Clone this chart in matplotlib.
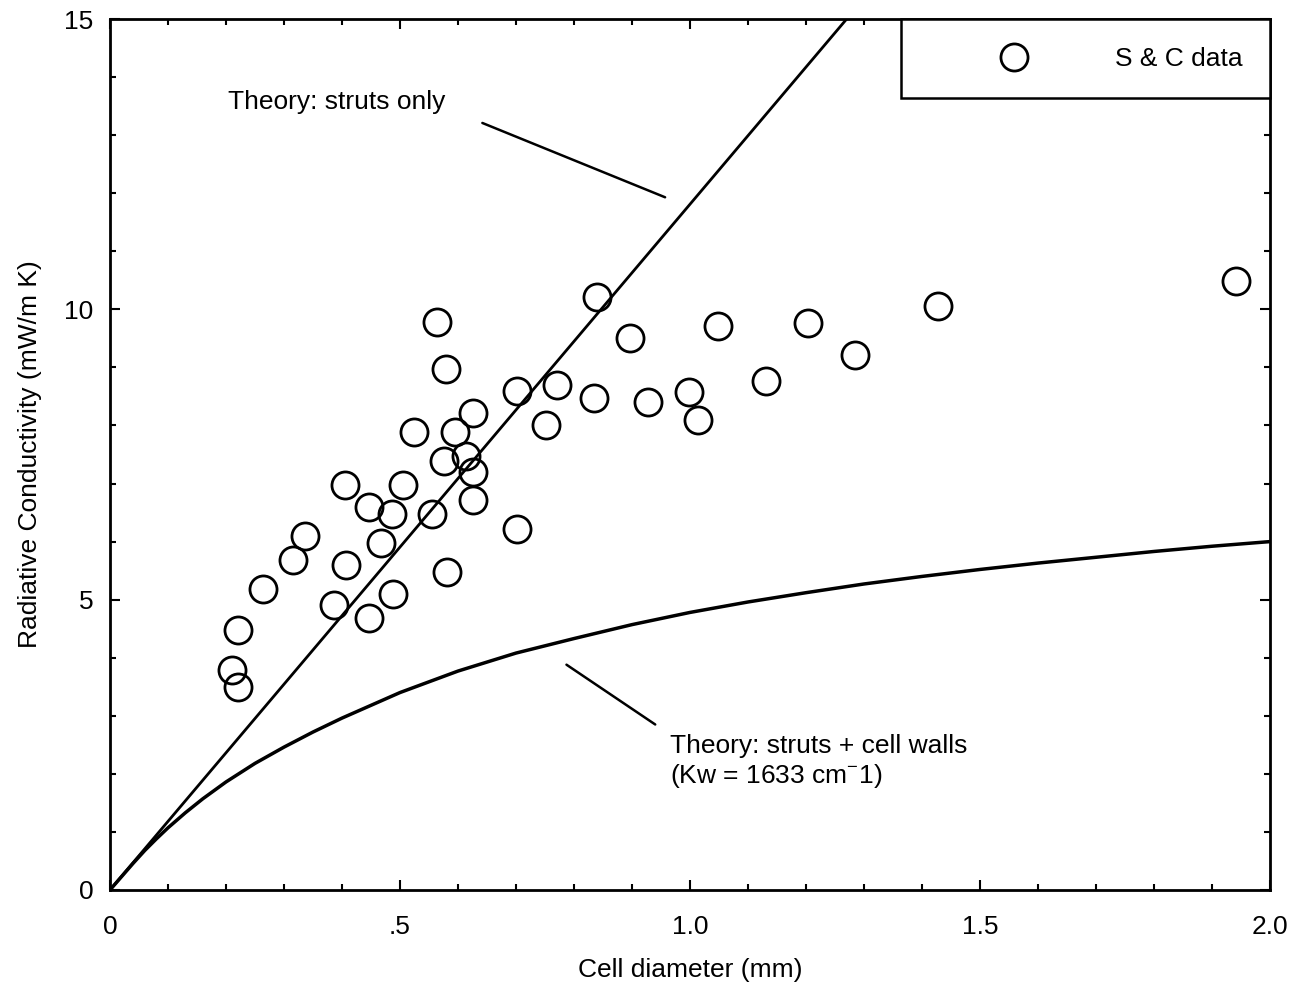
import numpy as np
import matplotlib
matplotlib.use('Agg')
import matplotlib.pyplot as plt
from matplotlib.ticker import MultipleLocator, FixedLocator, FixedFormatter

plt.rcParams['font.family'] = ['Liberation Sans', 'DejaVu Sans']
plt.rcParams['mathtext.fontset'] = 'custom'
plt.rcParams['mathtext.rm'] = 'Liberation Sans'

# S & C data (cell diameter mm, radiative conductivity mW/m K)
diam = [0.211, 0.221, 0.221, 0.263, 0.315, 0.336, 0.386, 0.407, 0.405, 0.446,
        0.446, 0.467, 0.486, 0.488, 0.505, 0.524, 0.555, 0.564, 0.576, 0.580,
        0.581, 0.595, 0.614, 0.625, 0.625, 0.625, 0.702, 0.702, 0.751, 0.770,
        0.834, 0.839, 0.896, 0.927, 0.998, 1.014, 1.048, 1.131, 1.204, 1.285,
        1.427, 1.941]
kr = [3.79, 3.50, 4.48, 5.19, 5.69, 6.09, 4.90, 5.59, 6.98, 6.60,
      4.69, 5.98, 6.48, 5.09, 6.98, 7.88, 6.48, 9.79, 7.38, 8.98,
      5.48, 7.88, 7.48, 8.21, 7.19, 6.71, 6.21, 8.59, 8.00, 8.69,
      8.48, 10.21, 9.50, 8.40, 8.57, 8.10, 9.71, 8.76, 9.76, 9.21,
      10.05, 10.48]

# theory: struts only (straight line)
struts_x = [0.0, 1.27]
struts_y = [0.0, 15.0]

# theory: struts + cell walls
walls_x = [0.0, 0.02, 0.04, 0.06, 0.08, 0.1, 0.13, 0.16, 0.2, 0.25, 0.3, 0.35,
           0.4, 0.45, 0.5, 0.6, 0.7, 0.8, 0.9, 1.0, 1.1, 1.2, 1.3, 1.4, 1.5,
           1.6, 1.7, 1.8, 1.9, 2.0]
walls_y = [0.0, 0.23, 0.46, 0.68, 0.88, 1.07, 1.33, 1.57, 1.86, 2.18, 2.46, 2.72,
           2.96, 3.18, 3.40, 3.77, 4.08, 4.33, 4.57, 4.78, 4.96, 5.12, 5.27, 5.40, 5.52,
           5.63, 5.73, 5.83, 5.92, 6.0]

fig = plt.figure(figsize=(13.06, 9.86), dpi=100)
ax = fig.add_axes([0.0842, 0.0974, 0.9725 - 0.0842, 0.9807 - 0.0974])

ax.plot(struts_x, struts_y, '-', color='black', lw=2.0, zorder=2)
ax.plot(walls_x, walls_y, '-', color='black', lw=2.5, zorder=2)
ax.plot(diam, kr, 'o', ms=19.5, mfc='none', mec='black', mew=2.0,
        label='S & C data', zorder=3)

ax.set_xlim(0, 2.0)
ax.set_ylim(0, 15)

ax.xaxis.set_major_locator(FixedLocator([0, 0.5, 1.0, 1.5, 2.0]))
ax.xaxis.set_major_formatter(FixedFormatter(['0', '.5', '1.0', '1.5', '2.0']))
ax.xaxis.set_minor_locator(MultipleLocator(0.1))
ax.yaxis.set_major_locator(MultipleLocator(5))
ax.yaxis.set_minor_locator(MultipleLocator(1))

ax.tick_params(which='both', direction='in', top=True, right=True,
               labelsize=19, width=1.5, color='black')
ax.tick_params(which='major', length=7.5)
ax.tick_params(which='minor', length=4.5)
ax.tick_params(axis='x', which='major', pad=18)
ax.tick_params(axis='y', which='major', pad=12)
for s in ax.spines.values():
    s.set_linewidth(2.0)

ax.set_xlabel('Cell diameter (mm)', fontsize=19, labelpad=14)
ax.set_ylabel('Radiative Conductivity (mW/m K)', fontsize=19, labelpad=16)

ax.text(0.204, 13.57, 'Theory: struts only', fontsize=19, va='center', ha='left')
ax.annotate('', xy=(0.957, 11.93), xytext=(0.642, 13.21),
            arrowprops=dict(arrowstyle='-', color='black', lw=1.8,
                            shrinkA=0, shrinkB=0))
ax.annotate('', xy=(0.940, 2.85), xytext=(0.787, 3.88),
            arrowprops=dict(arrowstyle='-', color='black', lw=1.8,
                            shrinkA=0, shrinkB=0))
ax.text(0.966, 2.20, 'Theory: struts + cell walls\n(Kw = 1633 cm$^{\\mathregular{-}}$1)',
        fontsize=19, va='center', ha='left', linespacing=1.2)

leg = ax.legend(loc='upper right', bbox_to_anchor=(1.0, 1.0), borderaxespad=0,
                fancybox=False, framealpha=1, edgecolor='black', fontsize=19,
                borderpad=1.05, handlelength=6.46, handletextpad=0.6)
leg.get_frame().set_linewidth(1.8)

fig.savefig('out.png', dpi=100)
